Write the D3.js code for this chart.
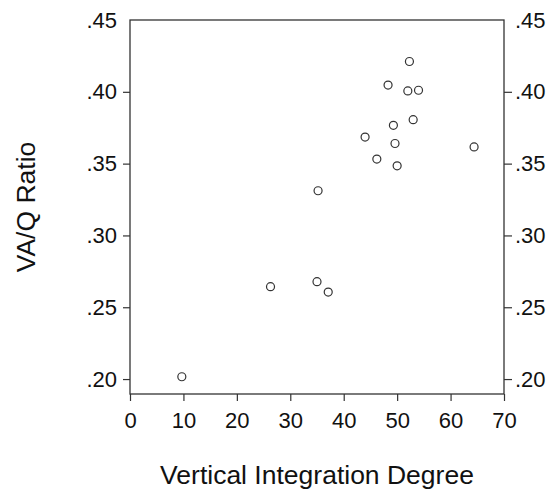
<!DOCTYPE html>
<html>
<head>
<meta charset="utf-8">
<script src="https://cdn.jsdelivr.net/npm/d3@7"></script>
<style>
  body { margin: 0; background: #fff; }
  text { font-family: "Liberation Sans", Arial, sans-serif; fill: #111; }
</style>
</head>
<body>
<svg id="chart"></svg>
<script>
// vertical integration degree (x) and VA/Q ratio (y)
const xValues = [9.7, 26.3, 35.0, 37.1, 35.2, 44.0, 46.2, 49.3, 49.6, 50.0, 48.3, 52.3, 52.0, 54.0, 53.0, 64.4];
const yValues = [.2016, .2643, .2678, .2606, .3311, .3685, .3532, .3767, .3640, .3485, .4047, .4211, .4006, .4011, .3806, .3616];
const xTicks = [0, 10, 20, 30, 40, 50, 60, 70];
const yTicks = [.20, .25, .30, .35, .40, .45];

const width = 555, height = 491;
const margin = { top: 20, right: 51, bottom: 97, left: 130 };
const innerW = width - margin.left - margin.right;
const innerH = height - margin.top - margin.bottom;

const svg = d3.select("#chart").attr("width", width).attr("height", height);
const chart = svg.append("g").attr("transform", `translate(${margin.left},${margin.top})`);

const x = d3.scaleLinear().domain([0, 70]).range([0, innerW]);
const y = d3.scaleLinear().domain([0.1896, 0.45]).range([innerH, 0]);

const fmt = d => d3.format(".2f")(d).replace(/^0/, "");

function styleAxis(g) {
    g.select(".domain").remove();
    g.selectAll(".tick line").attr("stroke", "#333").attr("stroke-width", 1.2);
    g.selectAll(".tick text").attr("font-size", "22px").attr("fill", "#1a1a1a");
}

chart.append("g")
    .attr("transform", `translate(0,${innerH})`)
    .call(d3.axisBottom(x).tickValues(xTicks).tickSize(7).tickPadding(11))
    .call(styleAxis);

chart.append("g")
    .call(d3.axisLeft(y).tickValues(yTicks).tickFormat(fmt).tickSize(7).tickPadding(6))
    .call(styleAxis)
    .call(g => g.selectAll(".tick").filter(d => d === .45).select("line").remove());

chart.append("g")
    .attr("transform", `translate(${innerW},0)`)
    .call(d3.axisRight(y).tickValues(yTicks).tickFormat(fmt).tickSize(8).tickPadding(3))
    .call(styleAxis)
    .call(g => g.selectAll(".tick").filter(d => d === .45).select("line").remove());

// frame
chart.append("rect")
    .attr("width", innerW)
    .attr("height", innerH)
    .attr("fill", "none")
    .attr("stroke", "#333")
    .attr("stroke-width", 1.3);

chart.selectAll(".dot")
    .data(xValues.map((v, i) => [v, yValues[i]]))
    .join("circle")
    .attr("class", "dot")
    .attr("cx", d => x(d[0]))
    .attr("cy", d => y(d[1]))
    .attr("r", 4)
    .attr("fill", "none")
    .attr("stroke", "#333")
    .attr("stroke-width", 1.2);

// axis titles
svg.append("text")
    .attr("x", margin.left + innerW / 2)
    .attr("y", 484)
    .attr("text-anchor", "middle")
    .attr("font-size", "26.5px")
    .attr("fill", "#1a1a1a")
    .text("Vertical Integration Degree");

svg.append("text")
    .attr("transform", `translate(35,${margin.top + innerH / 2}) rotate(-90)`)
    .attr("text-anchor", "middle")
    .attr("font-size", "26.5px")
    .attr("fill", "#1a1a1a")
    .text("VA/Q Ratio");
</script>
</body>
</html>
